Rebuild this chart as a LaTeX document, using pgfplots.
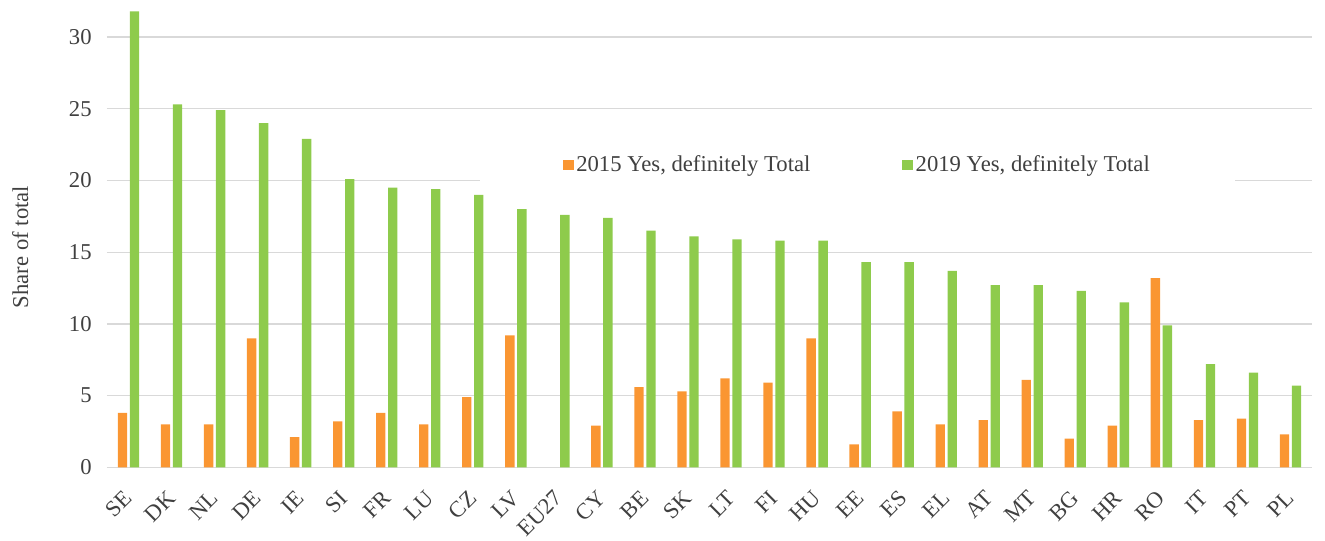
\documentclass[border=0pt]{standalone}
\usepackage{pgfplots}
\pgfplotsset{compat=1.18}
\usepackage{pgfplotstable}
\usepackage{fontspec}
\setmainfont{Liberation Serif}
\definecolor{cOrange}{RGB}{250,150,50}
\definecolor{cGreen}{RGB}{142,203,76}
\definecolor{cGrid}{RGB}{217,217,217}
\definecolor{cText}{RGB}{64,64,64}

\pgfplotstableread{
x lab y15 y19
0 SE 3.8 31.8
1 DK 3.0 25.3
2 NL 3.0 24.9
3 DE 9.0 24.0
4 IE 2.1 22.9
5 SI 3.2 20.1
6 FR 3.8 19.5
7 LU 3.0 19.4
8 CZ 4.9 19.0
9 LV 9.2 18.0
10 EU27 nan 17.6
11 CY 2.9 17.4
12 BE 5.6 16.5
13 SK 5.3 16.1
14 LT 6.2 15.9
15 FI 5.9 15.8
16 HU 9.0 15.8
17 EE 1.6 14.3
18 ES 3.9 14.3
19 EL 3.0 13.7
20 AT 3.3 12.7
21 MT 6.1 12.7
22 BG 2.0 12.3
23 HR 2.9 11.5
24 RO 13.2 9.9
25 IT 3.3 7.2
26 PT 3.4 6.6
27 PL 2.3 5.7
}\datatable

\begin{document}
\begin{tikzpicture}
\begin{axis}[
  name=ax,
  scale only axis,
  width=903.75pt, height=344.2pt,
  ybar, bar width=7pt,
  xmin=-0.5, xmax=27.5,
  ymin=0, ymax=32,
  ytick={0,5,...,30},
  xtick={0,1,...,27},
  xticklabels={SE,DK,NL,DE,IE,SI,FR,LU,CZ,LV,EU27,CY,BE,SK,LT,FI,HU,EE,ES,EL,AT,MT,BG,HR,RO,IT,PT,PL},
  axis line style={draw=none},
  major tick length=0pt,
  ymajorgrids,
  grid style={cGrid, line width=0.9pt},
  font=\fontsize{17pt}{20pt}\selectfont,
  /pgf/number format/assume math mode=true,
  tick label style={text=cText, font=\fontsize{17pt}{20pt}\selectfont},
  yticklabel style={anchor=east, xshift=-8pt},
  xticklabel style={xshift=2.4pt, yshift=-18pt, rotate=45, anchor=east},
  ylabel={Share of total},
  every axis y label/.style={at={(axis description cs:-0.0719,0.48)}, rotate=90, anchor=center, text=cText},
  legend columns=2,
  legend style={draw=none, fill=white, at={(axis description cs:0.623,0.659)}, anchor=center,
    inner xsep=62pt, inner ysep=12pt, text=cText,
    font=\fontsize{17pt}{20pt}\selectfont,
    /tikz/every even column/.append style={column sep=67pt}},
  legend image code/.code={\fill[#1,draw=none] (0pt,-4pt) rectangle (8pt,4pt);},
]
\addplot[fill=cOrange, draw=none] table[x=x, y=y15]{\datatable};
\addlegendentry{2015 Yes, definitely Total}
\addplot[fill=cGreen, draw=none] table[x=x, y=y19]{\datatable};
\addlegendentry{2019 Yes, definitely Total}
\end{axis}
\pgfresetboundingbox
\path ([xshift=-80.25pt,yshift=-54.5pt]ax.south west) rectangle ([xshift=9.75pt,yshift=6.3pt]ax.north east);
\end{tikzpicture}
\end{document}
